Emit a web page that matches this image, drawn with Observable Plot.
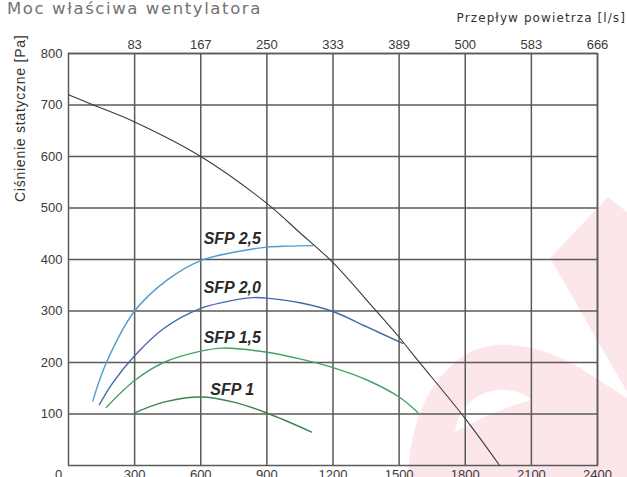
<!DOCTYPE html>
<html>
<head>
<meta charset="utf-8">
<script src="https://cdn.jsdelivr.net/npm/d3@7"></script>
<script src="https://cdn.jsdelivr.net/npm/@observablehq/plot@0.6"></script>
<style>
  html, body { margin: 0; padding: 0; background: #fff; overflow: hidden; }
  #wrap { position: relative; width: 627px; height: 477px; }
  #wrap > svg, #wrap > div { position: absolute; left: 0; top: 0; }
  .title { left: 7px !important; top: 1px !important; font: 16.5px/16.5px "DejaVu Sans", sans-serif;
           letter-spacing: 1.6px; color: #727272; white-space: nowrap; }
  .unit { left: auto !important; right: 1px; top: 12px !important; font: 12px/12px "DejaVu Sans", sans-serif;
          letter-spacing: 1.1px; color: #333; white-space: nowrap; }
  .ylab { left: 13px !important; top: 202px !important; transform-origin: left top; transform: rotate(-90deg);
          font: 14px/14px "Liberation Sans", Arial, sans-serif; letter-spacing: 0.75px; color: #333; white-space: nowrap; }
</style>
</head>
<body>
<div id="wrap">
  <svg width="627" height="477" aria-hidden="true">
    <g fill="#fde6ea">
      <path d="M608,197 L627,212 L627,392 L550,258 Z"/>
      <path d="M408,477 C410,420 430,375 470,352 C500,338 540,345 580,368 L627,398 L627,477 Z"/>
    </g>
    <path d="M455,432 C458,408 476,392 498,390 C512,389 524,393 532,400 C508,406 480,418 455,432 Z" fill="#fff"/>
  </svg>
</div>
<script>
// Air flow in m³/h (bottom axis) and the matching l/s labels (top axis)
const flowTicks = [300, 600, 900, 1200, 1500, 1800, 2100, 2400];
const flowLps = ["83", "167", "250", "333", "389", "500", "583", "666"];
const pressureTicks = [100, 200, 300, 400, 500, 600, 700, 800];

// Fan characteristic: static pressure [Pa] against air flow [m³/h]
const fanQ = [0, 113, 300, 600, 900, 1050, 1200, 1390, 1500, 1585, 1800, 1956];
const fanP = [720, 700, 667, 600, 509, 452, 394, 303, 249, 204, 91, 0];

// Specific fan power curves
const sfpNames = ["SFP 2,5", "SFP 2,0", "SFP 1,5", "SFP 1"];
const sfp25Q = [110, 172, 300, 450, 600, 750, 900, 1000, 1110];
const sfp25P = [125, 200, 300, 361, 398, 414, 424, 426, 427];
const sfp20Q = [140, 200, 300, 432, 600, 750, 840, 900, 1050, 1200, 1354, 1517];
const sfp20P = [118, 160, 213, 266, 305, 321, 326, 325, 316, 299, 269, 237];
const sfp15Q = [172, 300, 432, 600, 700, 900, 1050, 1200, 1354, 1500, 1585];
const sfp15P = [113, 165, 200, 222, 228, 220, 207, 190, 166, 133, 103];
const sfp10Q = [300, 432, 600, 750, 900, 1103];
const sfp10P = [102, 123, 133, 123, 102, 65];

// Label anchor for each SFP curve
const labelQ = [743, 743, 743, 743];
const labelP = [441, 344, 247, 146];

const sfpColors = ["#4f9dcb", "#4468a6", "#46a064", "#3b8552"];

const sfpQ = [sfp25Q, sfp20Q, sfp15Q, sfp10Q];
const sfpP = [sfp25P, sfp20P, sfp15P, sfp10P];
const sfpRows = sfpNames.flatMap((name, k) =>
  sfpQ[k].map((q, i) => ({name, q, p: sfpP[k][i]})));
const fanRows = fanQ.map((q, i) => ({q, p: fanP[i]}));
const labelRows = sfpNames.map((name, i) => ({name, q: labelQ[i], p: labelP[i]}));

const gridStyle = {stroke: "#5a5a5a", strokeOpacity: 1, strokeWidth: 1.5};

const chart = Plot.plot({
  width: 627,
  height: 477,
  marginLeft: 68,
  marginRight: 30,
  marginTop: 53,
  marginBottom: 12,
  style: {fontFamily: "'Liberation Sans', Arial, sans-serif", fontSize: "13px", color: "#3a3a3a", background: "transparent", overflow: "visible"},
  x: {domain: [0, 2400]},
  y: {domain: [0, 800]},
  color: {domain: sfpNames, range: sfpColors},
  marks: [
    Plot.gridX(flowTicks, gridStyle),
    Plot.gridY(pressureTicks, gridStyle),
    Plot.frame(gridStyle),
    Plot.line(fanRows, {x: "q", y: "p", stroke: "#3a3a3a", strokeWidth: 1.1, curve: "catmull-rom"}),
    Plot.line(sfpRows, {x: "q", y: "p", z: "name", stroke: "name", strokeWidth: 1.4, curve: "catmull-rom"}),
    Plot.text(labelRows, {x: "q", y: "p", text: "name", fontSize: 16, fontWeight: "bold", fontStyle: "italic",
      fill: "#2a2a2a", fontFamily: "'Liberation Sans', Arial, sans-serif"}),
    Plot.axisX({anchor: "bottom", ticks: flowTicks, tickSize: 0, tickPadding: 4, label: null,
      tickFormat: d => String(d)}),
    Plot.text([0], {x: d => d, frameAnchor: "bottom", lineAnchor: "top", dy: 4, dx: -10, text: d => String(d), fill: "#3a3a3a"}),
    Plot.axisX({anchor: "top", ticks: flowTicks, tickSize: 0, tickPadding: 5, label: null,
      tickFormat: d => flowLps[flowTicks.indexOf(d)]}),
    Plot.axisY({anchor: "left", ticks: pressureTicks, tickSize: 0, tickPadding: 6, label: null,
      tickFormat: d => String(d)})
  ]
});

const wrap = document.getElementById("wrap");
wrap.appendChild(chart);

const title = document.createElement("div");
title.className = "title";
title.textContent = "Moc właściwa wentylatora";
wrap.appendChild(title);

const unit = document.createElement("div");
unit.className = "unit";
unit.textContent = "Przepływ powietrza [l/s]";
wrap.appendChild(unit);

const ylab = document.createElement("div");
ylab.className = "ylab";
ylab.textContent = "Ciśnienie statyczne [Pa]";
wrap.appendChild(ylab);
</script>
</body>
</html>
